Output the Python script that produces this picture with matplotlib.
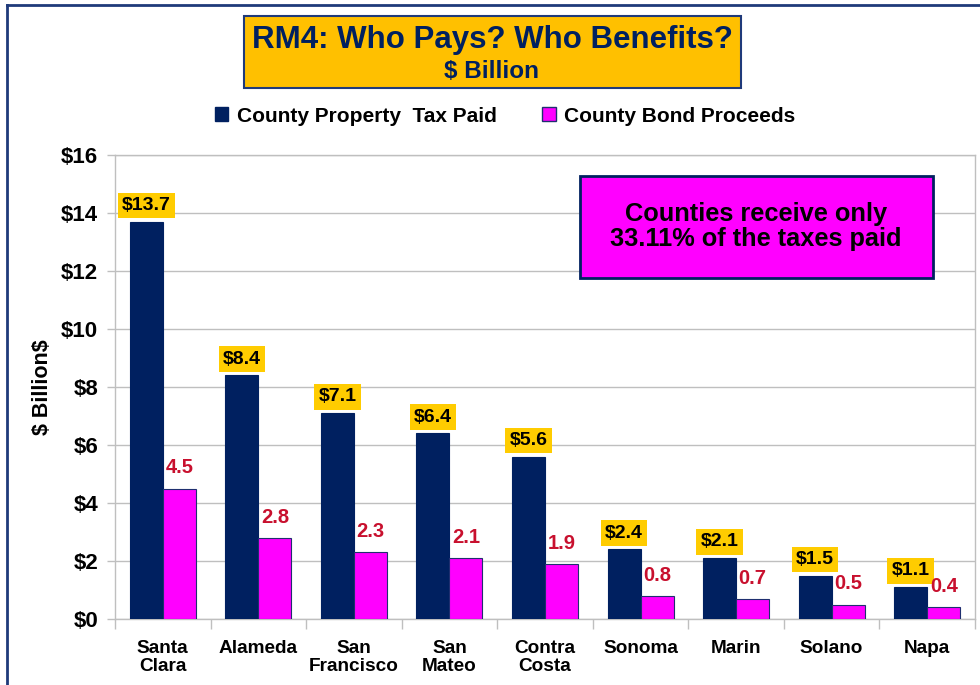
import matplotlib
matplotlib.use("Agg")
import matplotlib.pyplot as plt
from matplotlib.patches import Patch, Rectangle
from matplotlib.lines import Line2D
import numpy as np

plt.rcParams['font.family'] = ['Liberation Sans', 'DejaVu Sans']
plt.rcParams['font.weight'] = 'bold'

counties = ["Santa\nClara", "Alameda", "San\nFrancisco", "San\nMateo", "Contra\nCosta",
            "Sonoma", "Marin", "Solano", "Napa"]
tax_paid = [13.7, 8.4, 7.1, 6.4, 5.6, 2.4, 2.1, 1.5, 1.1]
bond_proceeds = [4.5, 2.8, 2.3, 2.1, 1.9, 0.8, 0.7, 0.5, 0.4]
yticks = [0, 2, 4, 6, 8, 10, 12, 14, 16]
ytick_labels = ["$0", "$2", "$4", "$6", "$8", "$10", "$12", "$14", "$16"]

NAVY = "#002060"
PINK = "#FF00FF"
GOLD = "#FFC000"
RED = "#C8102E"

fig = plt.figure(figsize=(9.8, 6.85), dpi=100)
ax = fig.add_axes([115/980, 1-619/685, 860/980, 464/685])

x = np.arange(len(counties))
w = 0.345
ax.bar(x - w/2, tax_paid, w, color=NAVY, edgecolor=NAVY, linewidth=0.8,
       label="County Property  Tax Paid", zorder=3)
ax.bar(x + w/2, bond_proceeds, w, color=PINK, edgecolor="#1F2F6F", linewidth=0.8,
       label="County Bond Proceeds", zorder=3)

for xi, v in zip(x, tax_paid):
    ax.annotate(f"${v:.1f}", (xi - w/2, v), xytext=(0, 5.5), textcoords="offset points",
                ha="center", va="bottom", fontsize=14, fontweight="bold", color="black",
                bbox=dict(boxstyle="square,pad=0.22", fc="#FFCC00", ec="none"), zorder=5)
for xi, v in zip(x, bond_proceeds):
    ax.annotate(f"{v:.1f}", (xi + w/2, v), xytext=(0, 8), textcoords="offset points",
                ha="center", va="bottom", fontsize=14.5, fontweight="bold", color=RED, zorder=5)

ax.set_xlim(-0.5, len(counties) - 0.5)
ax.set_ylim(0, 16)
ax.set_yticks(yticks)
ax.set_yticklabels(ytick_labels, fontsize=16, fontweight="bold")
ax.set_xticks(x)
ax.set_xticklabels(counties, fontsize=13.7, fontweight="bold", linespacing=1.1)
ax.tick_params(axis="x", length=0, pad=15)
ax.set_xticks(np.arange(-0.5, len(counties), 1), minor=True)
ax.tick_params(axis="x", which="minor", length=7, color="#BFBFBF", width=1)
ax.tick_params(axis="y", length=6, color="#BFBFBF", width=1, pad=6)
ax.grid(axis="y", color="#BFBFBF", linewidth=1, zorder=0)
for s in ax.spines.values():
    s.set_color("#BFBFBF")
    s.set_linewidth(1)
ax.set_ylabel("\\$ Billion\\$", fontsize=15.5, fontweight="bold", labelpad=4)
ax.yaxis.set_label_coords(-0.072, 0.5)

# annotation box
ax.add_patch(Rectangle((0.5407, 0.735), 0.4103, 0.22, transform=ax.transAxes,
                       fc=PINK, ec=NAVY, lw=2, zorder=6, clip_on=False))
ax.text(0.7455, 0.845, "Counties receive only\n33.11% of the taxes paid", transform=ax.transAxes,
        ha="center", va="center", fontsize=18.3, fontweight="bold", color="black",
        linespacing=1.05, zorder=7)

# title box
fig.patches.append(Rectangle((244/980, 1-88/685), 497/980, 72/685, transform=fig.transFigure,
                             fc=GOLD, ec="#1F3A7A", lw=1.5, zorder=1))
fig.text(492/980, 1-40/685, "RM4: Who Pays? Who Benefits?", ha="center", va="center",
         fontsize=22.5, fontweight="bold", color=NAVY)
fig.text(491/980, 1-71/685, "$ Billion", ha="center", va="center",
         fontsize=17.5, fontweight="bold", color=NAVY)

# legend
handles = [Patch(fc=NAVY, ec=NAVY), Patch(fc=PINK, ec="#1F2F6F")]
fig.legend(handles, ["County Property  Tax Paid", "County Bond Proceeds"],
           loc="center", bbox_to_anchor=(505/980, 1-116/685), ncol=2, frameon=False,
           prop=dict(size=15, weight="bold"), handlelength=0.65, handleheight=0.65,
           handletextpad=0.4, columnspacing=2.2)

# outer frame (left and top)
fig.lines.append(Line2D([7/980, 7/980], [0, 1-5/685], transform=fig.transFigure,
                        color="#1F3A7A", lw=2))
fig.lines.append(Line2D([7/980, 1], [1-5/685, 1-5/685], transform=fig.transFigure,
                        color="#1F3A7A", lw=2))

fig.savefig("out.png", dpi=100, facecolor="white")
